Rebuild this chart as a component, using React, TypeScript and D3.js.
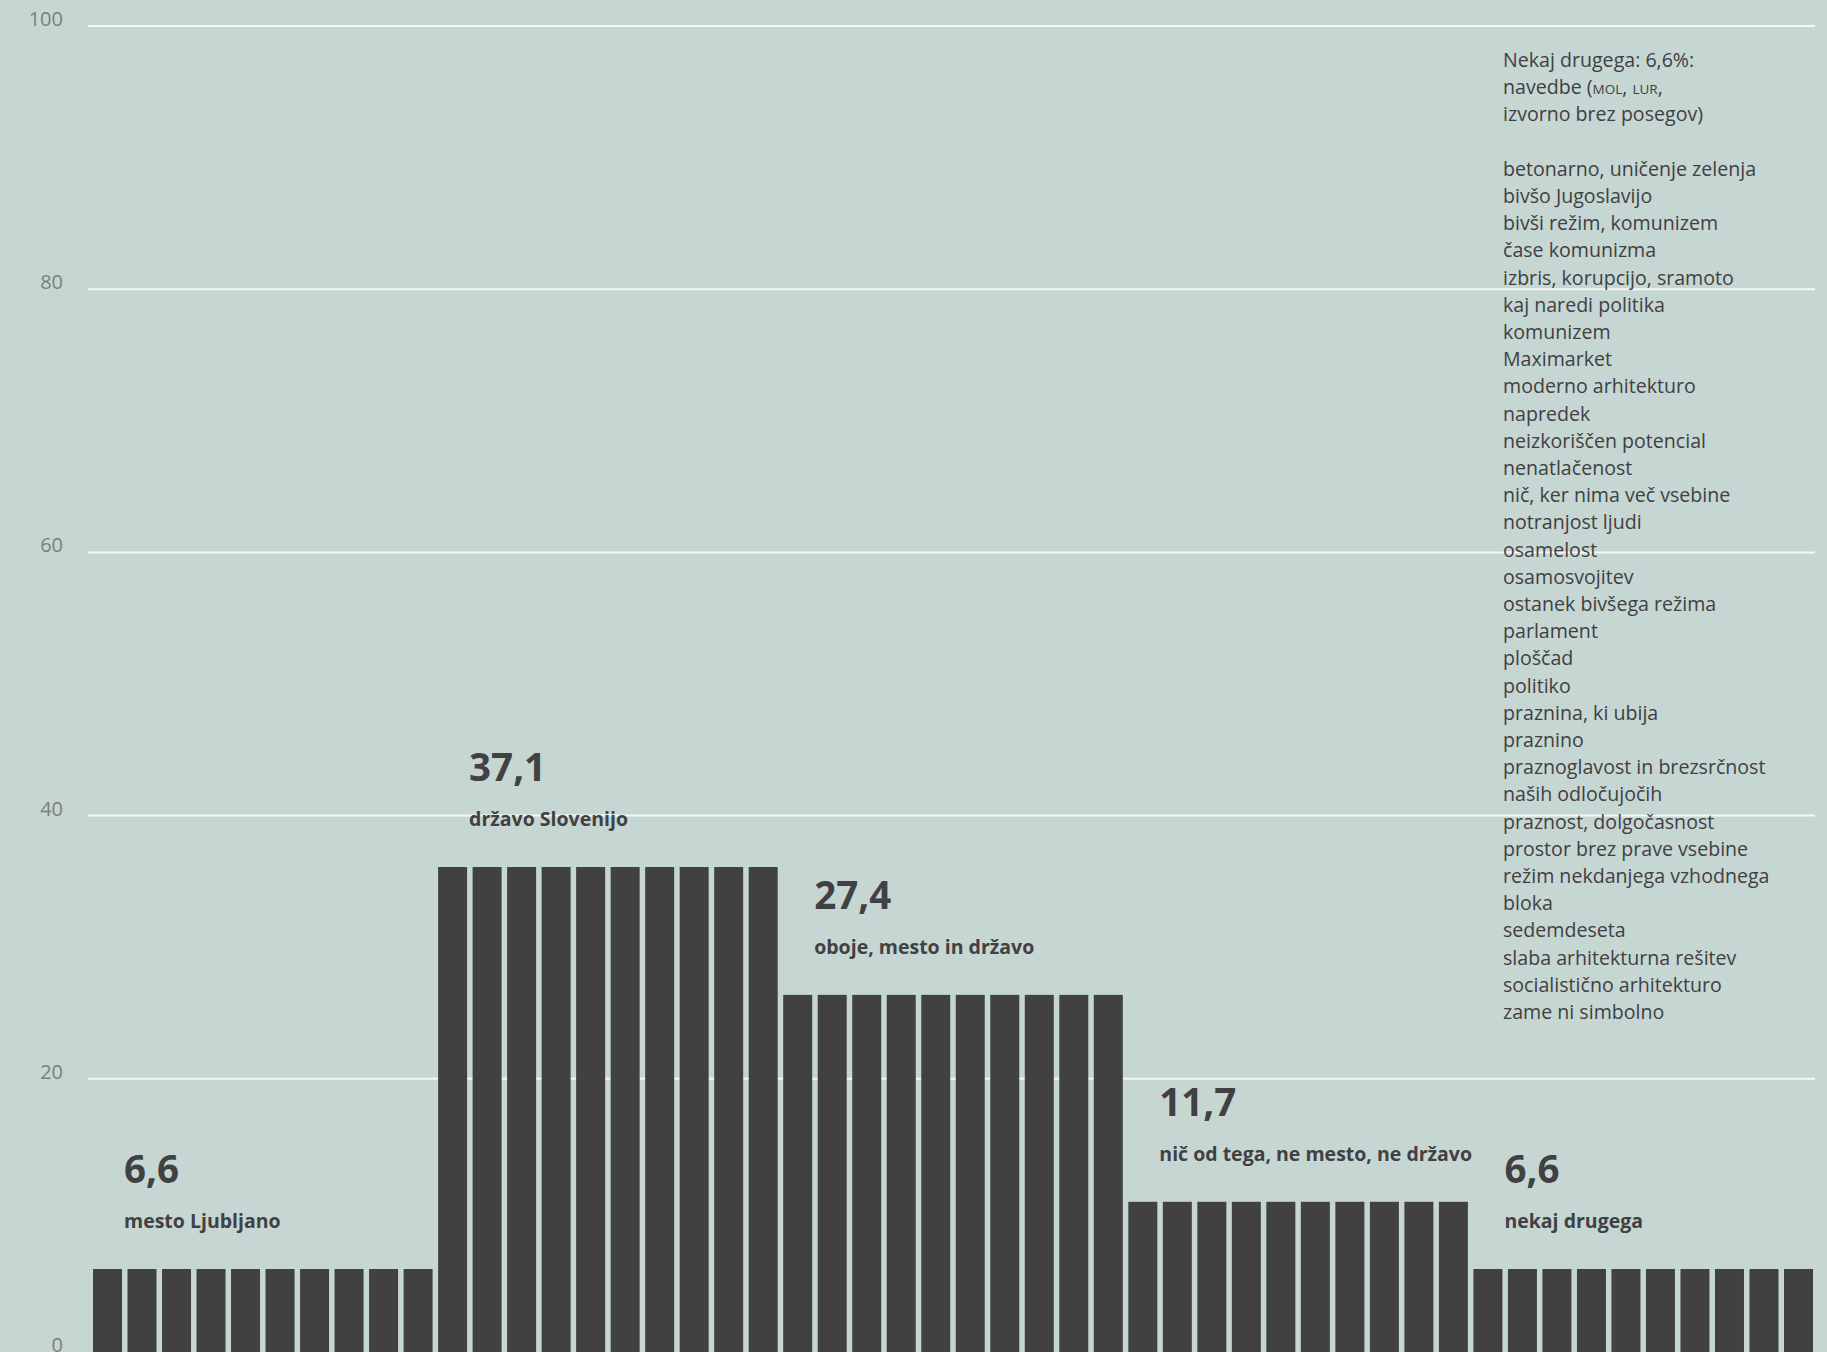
import {useEffect, useRef} from "react";
import * as d3 from "d3";

const SvgWidth = 1827;
const SvgHeight = 1352;

const bgColor = "#c6d6d3"
const barColor = "#414042"
const textColor = "#414042"
const tickColor = "#7c7f7f"
const fontFamily = "'Open Sans', 'Noto Sans', sans-serif"

// answers, share in %
const categories = [
    "mesto Ljubljano",
    "državo Slovenijo",
    "oboje, mesto in državo",
    "nič od tega, ne mesto, ne državo",
    "nekaj drugega",
];
const values = [6.6, 37.1, 27.4, 11.7, 6.6];
const barsPerGroup = 10;

const yTicks = [0, 20, 40, 60, 80, 100];

const noteHeader = ["Nekaj drugega: 6,6%:", "navedbe (", "izvorno brez posegov)"];
const noteItems = [
    "betonarno, uničenje zelenja",
    "bivšo Jugoslavijo",
    "bivši režim, komunizem",
    "čase komunizma",
    "izbris, korupcijo, sramoto",
    "kaj naredi politika",
    "komunizem",
    "Maximarket",
    "moderno arhitekturo",
    "napredek",
    "neizkoriščen potencial",
    "nenatlačenost",
    "nič, ker nima več vsebine",
    "notranjost ljudi",
    "osamelost",
    "osamosvojitev",
    "ostanek bivšega režima",
    "parlament",
    "ploščad",
    "politiko",
    "praznina, ki ubija",
    "praznino",
    "praznoglavost in brezsrčnost",
    "naših odločujočih",
    "praznost, dolgočasnost",
    "prostor brez prave vsebine",
    "režim nekdanjega vzhodnega",
    "bloka",
    "sedemdeseta",
    "slaba arhitekturna rešitev",
    "socialistično arhitekturo",
    "zame ni simbolno",
];

const slFormat = d3.formatLocale({decimal: ",", thousands: ".", grouping: [3], currency: ["", " €"]}).format(".1f");

function App(){
    const gridRef = useRef(null);

    // one bar slot per pictogram column, 10 per answer
    const bars = values.flatMap((v, g) => d3.range(barsPerGroup).map(i => ({g: g, i: g * barsPerGroup + i, v: v})));

    const xScale = d3.scaleBand()
        .domain(d3.range(bars.length))
        .range([93, 1813])
        .paddingInner(0.16);

    const yGrid = d3.scaleLinear()
        .domain([0, 100])
        .range([1342, 26]);

    // bars stand on a baseline a little below the picture edge
    const yBar = d3.scaleLinear()
        .domain([0, 100])
        .range([1356, 38]);

    useEffect(() => {
        let gridElm = d3.select(gridRef.current);
        gridElm.selectAll("*").remove();

        gridElm.selectAll("line")
            .data(yTicks.filter(t => t > 0))
            .join("line")
            .attr("x1", 88)
            .attr("x2", 1815)
            .attr("y1", d => yGrid(d))
            .attr("y2", d => yGrid(d))
            .attr("stroke", "#f4f7f6")
            .attr("stroke-width", 2);

        gridElm.selectAll("text")
            .data(yTicks)
            .join("text")
            .attr("x", 63)
            .attr("y", d => d === 0 ? SvgHeight : yGrid(d))
            .attr("text-anchor", "end")
            .attr("fill", tickColor)
            .attr("font-size", 20)
            .attr("font-family", fontFamily)
            .text(d => d);
    }, [yGrid])

    return (
        <div style={{position: "absolute", left: 0, top: 0}}>
            <svg width={SvgWidth} height={SvgHeight} style={{display: "block"}}>
                <rect width={SvgWidth} height={SvgHeight} fill={bgColor}></rect>

                <g ref={gridRef}></g>

                <g>
                    {bars.map(b => (
                        <rect
                            key={b.i}
                            x={xScale(b.i)}
                            y={yBar(b.v)}
                            width={xScale.bandwidth()}
                            height={yBar(0) - yBar(b.v)}
                            fill={barColor}
                        ></rect>
                    ))}
                </g>

                <g fontFamily={fontFamily} fill={textColor}>
                    {categories.map((c, g) => (
                        <g key={c} transform={`translate(${xScale(g * barsPerGroup) + 31}, ${yBar(values[g])})`}>
                            <text y={-86} fontSize={38.5} fontWeight={700}>{slFormat(values[g])}</text>
                            <text y={-41} fontSize={19.5} fontWeight={700}>{c}</text>
                        </g>
                    ))}
                </g>

                <g fontFamily={fontFamily} fill={textColor} fontSize={19.6} transform={"translate(1503, 67)"}>
                    {noteHeader.map((t, i) => (
                        <text key={"h" + i} y={i * 27.2}>
                            {t}
                            {i === 1 ? (
                                <>
                                    <tspan fontSize={13.5}>MOL</tspan>
                                    <tspan>, </tspan>
                                    <tspan fontSize={13.5}>LUR</tspan>
                                    <tspan>,</tspan>
                                </>
                            ) : null}
                        </text>
                    ))}
                    {noteItems.map((t, i) => (
                        <text key={t} y={(i + noteHeader.length + 1) * 27.2}>{t}</text>
                    ))}
                </g>
            </svg>
        </div>
    )
}

export default App;
